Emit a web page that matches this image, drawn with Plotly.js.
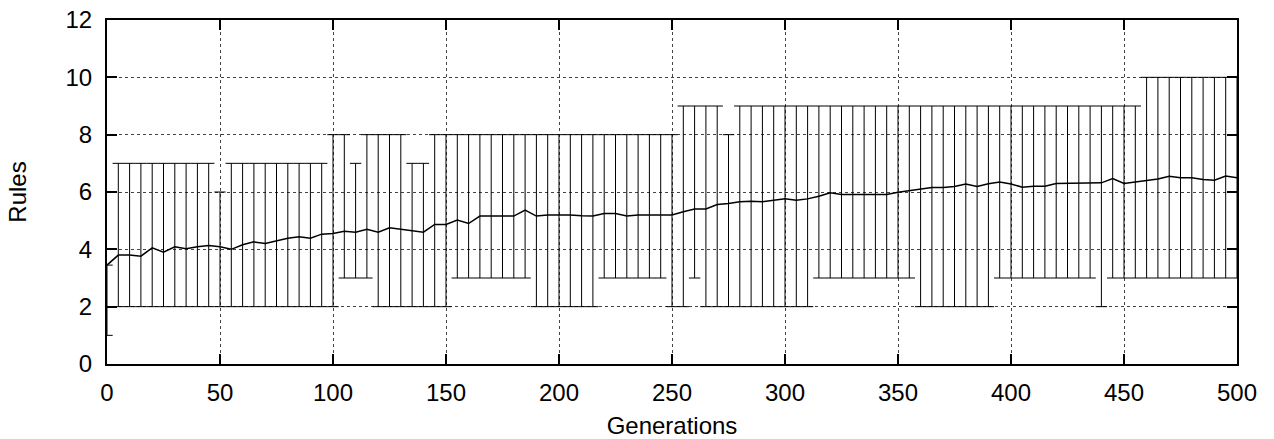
<!DOCTYPE html>
<html>
<head>
<meta charset="utf-8">
<script src="https://cdn.plot.ly/plotly-3.0.1.min.js"></script>
<style>html,body{margin:0;padding:0;background:#fff;}#chart{width:1274px;height:439px;}</style>
</head>
<body>
<div id="chart"></div>
<script>
// Generations at which the min/max error bars are drawn (every 5)
const generations = [0,5,10,15,20,25,30,35,40,45,50,55,60,65,70,75,80,85,90,95,
  100,105,110,115,120,125,130,135,140,145,150,155,160,165,170,175,180,185,190,195,
  200,205,210,215,220,225,230,235,240,245,250,255,260,265,270,275,280,285,290,295,
  300,305,310,315,320,325,330,335,340,345,350,355,360,365,370,375,380,385,390,395,
  400,405,410,415,420,425,430,435,440,445,450,455,460,465,470,475,480,485,490,495,500];

// Mean number of rules
const meanRules = [3.45,3.80,3.80,3.76,4.05,3.90,4.09,4.02,4.09,4.13,4.09,4.00,4.16,4.26,4.20,4.30,4.39,4.44,4.39,4.53,
  4.55,4.63,4.60,4.70,4.60,4.75,4.70,4.67,4.60,4.87,4.87,5.02,4.90,5.16,5.16,5.16,5.16,5.37,5.16,5.20,
  5.20,5.20,5.17,5.16,5.25,5.25,5.16,5.20,5.20,5.20,5.20,5.31,5.41,5.41,5.56,5.60,5.66,5.68,5.66,5.71,
  5.76,5.71,5.76,5.85,5.97,5.91,5.91,5.91,5.91,5.91,5.99,6.04,6.09,6.16,6.16,6.19,6.28,6.19,6.29,6.35,
  6.28,6.17,6.20,6.20,6.30,6.30,6.30,6.30,6.32,6.47,6.30,6.35,6.41,6.45,6.55,6.50,6.50,6.44,6.41,6.56,6.50];

// Maximum number of rules
const maxRules = [3.45,7,7,7,7,7,7,7,7,7,6,7,7,7,7,7,7,7,7,7,
  8,8,7,8,8,8,8,7,7,8,8,8,8,8,8,8,8,8,8,8,
  8,8,8,8,8,8,8,8,8,8,8,9,9,9,9,8,9,9,9,9,
  9,9,9,9,9,9,9,9,9,9,9,9,9,9,9,9,9,9,9,9,
  9,9,9,9,9,9,9,9,9,9,9,9,10,10,10,10,10,10,10,10,10];

// Minimum number of rules
const minRules = [1,2,2,2,2,2,2,2,2,2,2,2,2,2,2,2,2,2,2,2,
  2,3,3,3,2,2,2,2,2,2,2,3,3,3,3,3,3,3,2,2,
  2,2,2,2,3,3,3,3,3,3,2,2,3,2,2,2,2,2,2,2,
  2,2,2,3,3,3,3,3,3,3,3,3,2,2,2,2,2,2,2,3,
  3,3,3,3,3,3,3,3,2,3,3,3,3,3,3,3,3,3,3,3,3];

const xTicks = [0,50,100,150,200,250,300,350,400,450,500];
const yTicks = [0,2,4,6,8,10,12];

const errPlus = maxRules.map((v,i) => v - meanRules[i]);
const errMinus = minRules.map((v,i) => meanRules[i] - v);

const font = {family: 'Liberation Sans, Arial, sans-serif', size: 24, color: '#000'};

const trace = {
  x: generations,
  y: meanRules,
  type: 'scatter',
  mode: 'lines',
  cliponaxis: false,
  line: {color: '#000', width: 1.5},
  error_y: {type: 'data', symmetric: false, array: errPlus, arrayminus: errMinus,
    color: '#000', thickness: 1, width: 5.7},
  hoverinfo: 'skip',
  showlegend: false
};

const axisCommon = {
  showline: true, linecolor: '#000', linewidth: 2, mirror: 'ticks',
  ticks: 'inside', ticklen: 10, tickwidth: 2, tickcolor: '#000',
  showgrid: true, gridcolor: '#444', gridwidth: 1, griddash: 'dot',
  zeroline: false, tickfont: font, fixedrange: true
};

const layout = {
  width: 1274, height: 439,
  margin: {l: 107, r: 37, t: 20, b: 75},
  paper_bgcolor: '#fff', plot_bgcolor: '#fff',
  font: font,
  xaxis: Object.assign({}, axisCommon, {
    range: [0, 500], tickmode: 'array', tickvals: xTicks, ticktext: xTicks.map(String),
    ticklabelstandoff: 6,
    title: {text: 'Generations', font: font, standoff: 12}
  }),
  yaxis: Object.assign({}, axisCommon, {
    range: [0, 12], tickmode: 'array', tickvals: yTicks, ticktext: yTicks.map(String),
    ticklabelstandoff: 8,
    title: {text: 'Rules', font: font, standoff: 32}
  })
};

Plotly.newPlot('chart', [trace], layout, {staticPlot: true, displayModeBar: false});
</script>
</body>
</html>
